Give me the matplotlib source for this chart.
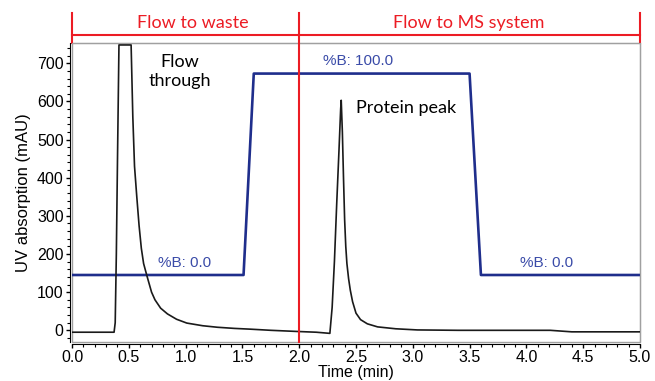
import matplotlib
matplotlib.use('Agg')
import matplotlib.pyplot as plt
import matplotlib.transforms as mtransforms
from matplotlib.patches import Rectangle
from matplotlib.ticker import MultipleLocator, FormatStrFormatter

# ── Data ─────────────────────────────────────────────────────────
time = [0.0, 0.37, 0.38, 0.39, 0.40, 0.413, 0.52, 0.535, 0.55, 0.57, 0.59,
        0.61, 0.63, 0.66, 0.70, 0.73, 0.78, 0.84, 0.92, 1.01, 1.15, 1.28,
        1.43, 1.57, 1.75, 1.98, 2.15, 2.27, 2.29, 2.31, 2.33, 2.35, 2.365,
        2.37, 2.38, 2.39, 2.40, 2.41, 2.42, 2.435, 2.45, 2.47, 2.50, 2.54,
        2.60, 2.69, 2.85, 3.04, 3.40, 3.77, 4.21, 4.40, 5.0]
uv = [-5, -5, 20, 200, 445, 748, 748, 560, 430, 350, 275,
      215, 175, 142, 100, 80, 58, 43, 29, 19, 12, 8,
      5, 3, 0, -3, -5, -8, 60, 180, 330, 470, 580,
      603, 520, 400, 290, 220, 175, 135, 105, 75, 45, 28,
      17, 9, 4, 1, 0, 0, 0, -4, -4]

# gradient trace (%B), drawn on the same mAU scale
grad_t = [0.0, 1.51, 1.60, 3.50, 3.60, 5.0]
grad_y = [145, 145, 673, 673, 145, 145]

switch_t = 2.0

# ── Colours ───────────────────────────────────────────────────────
c_uv = '#1a1a1a'
c_grad = '#1f2e8c'
c_gtext = '#3a4ba8'
c_red = '#ec1c24'
grey = '#a0a0a0'

calibri_like = ['Lato', 'DejaVu Sans']
plt.rcParams['font.family'] = ['Liberation Sans', 'DejaVu Sans']

fig = plt.figure(figsize=(6.55, 3.81), dpi=100)
ax = fig.add_axes([0.110, 0.102, 0.867, 0.785])

ax.plot(time, uv, color=c_uv, linewidth=1.2, zorder=3)
ax.plot(grad_t, grad_y, color=c_grad, linewidth=1.9, zorder=2)

ax.set_xlim(0, 5)
ax.set_ylim(-31, 753)
ax.xaxis.set_major_locator(MultipleLocator(0.5))
ax.xaxis.set_minor_locator(MultipleLocator(0.1))
ax.yaxis.set_major_locator(MultipleLocator(100))
ax.yaxis.set_minor_locator(MultipleLocator(20))
ax.set_yticks(range(0, 701, 100))
ax.xaxis.set_major_formatter(FormatStrFormatter('%.1f'))
ax.tick_params(which='major', direction='out', length=3, width=1, labelsize=11.5, pad=1.5)
ax.tick_params(which='minor', direction='out', length=2, width=0.8)

for s in ['top', 'right']:
    ax.spines[s].set_color(grey)
for s in ['left', 'bottom']:
    ax.spines[s].set_position(('outward', 1.5))
    ax.spines[s].set_color('black')
ax.add_patch(Rectangle((0, 0), 1, 1, transform=ax.transAxes, fill=False,
                       edgecolor=grey, linewidth=1, zorder=1, clip_on=False))

ax.set_xlabel('Time (min)', fontsize=11.5, labelpad=0)
ax.set_ylabel('UV absorption (mAU)', fontsize=12, labelpad=4)

# ── Gradient labels ──────────────────────────────────────────────
ax.text(0.99, 176, '%B: 0.0', color=c_gtext, fontsize=11, ha='center', va='center')
ax.text(2.52, 706, '%B: 100.0', color=c_gtext, fontsize=11, ha='center', va='center')
ax.text(4.18, 176, '%B: 0.0', color=c_gtext, fontsize=11, ha='center', va='center')

# ── Peak annotations ─────────────────────────────────────────────
ax.text(0.95, 678, 'Flow\nthrough', fontsize=13, ha='center', va='center',
        family=calibri_like, linespacing=1.25)
ax.text(2.94, 582, 'Protein peak', fontsize=13, ha='center', va='center',
        family=calibri_like)

# ── Valve switching bracket above the plot ───────────────────────
trans = mtransforms.blended_transform_factory(ax.transData, ax.transAxes)
ax.plot([0, 5], [1.027, 1.027], color=c_red, linewidth=1.5, transform=trans, clip_on=False)
for xv in [0, 5]:
    ax.plot([xv, xv], [1.0, 1.10], color=c_red, linewidth=1.5, transform=trans, clip_on=False)
ax.plot([switch_t, switch_t], [0.0, 1.10], color=c_red, linewidth=1.5,
        transform=trans, clip_on=False, zorder=4)
ax.text(1.06, 1.067, 'Flow to waste', color=c_red, fontsize=13, ha='center', va='center',
        transform=trans, family=calibri_like)
ax.text(3.49, 1.067, 'Flow to MS system', color=c_red, fontsize=13, ha='center', va='center',
        transform=trans, family=calibri_like)

plt.savefig('out.png', dpi=100)
plt.close()
